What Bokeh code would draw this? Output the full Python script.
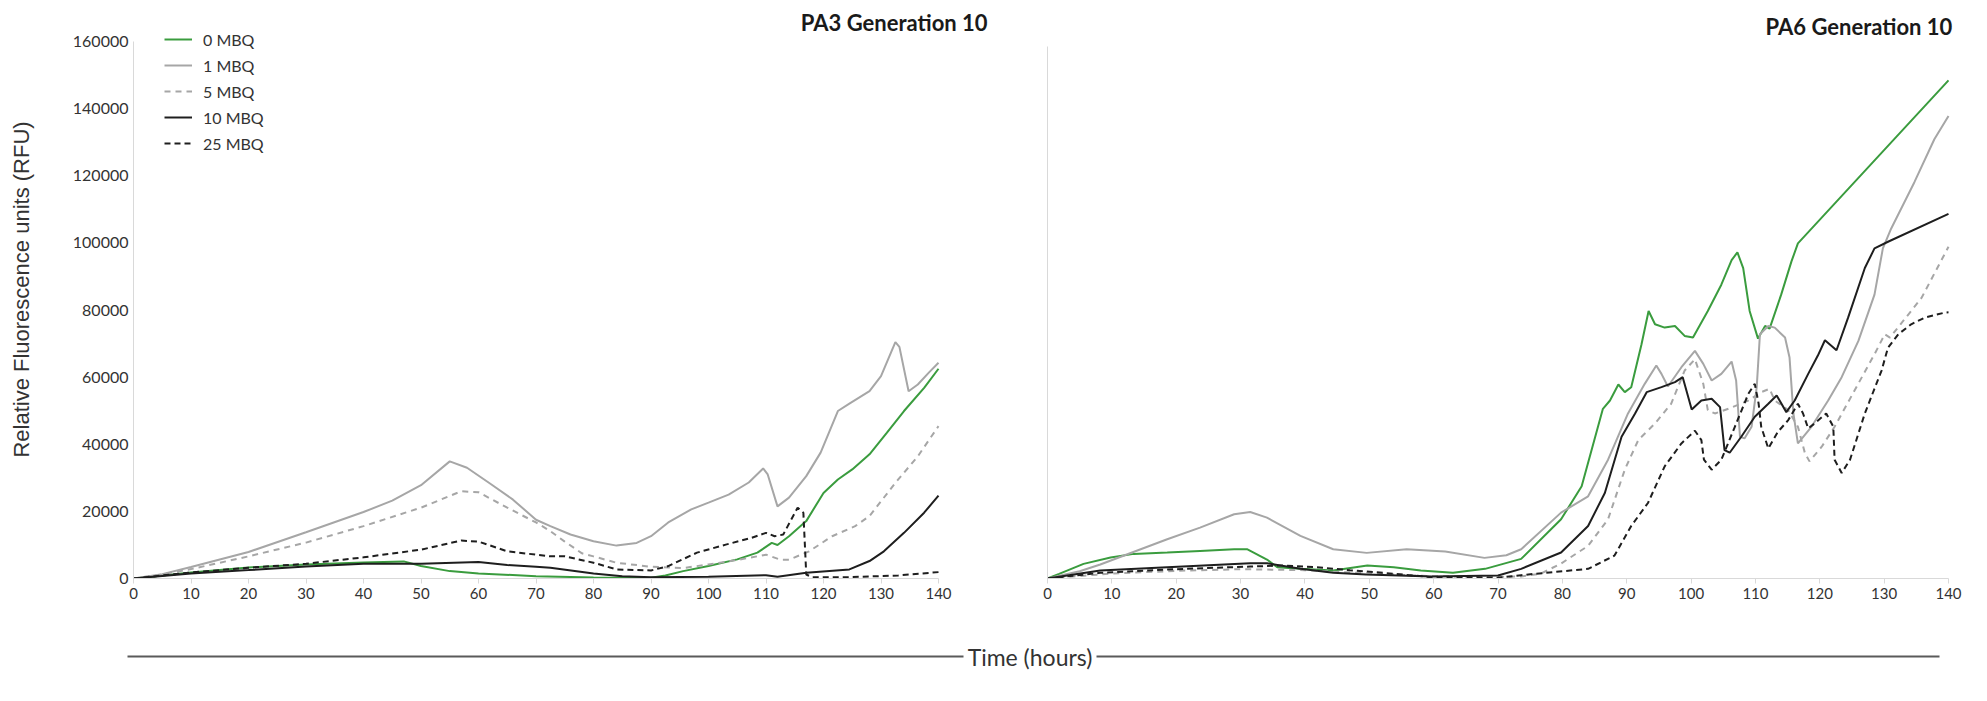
from bokeh.plotting import figure
from bokeh.layouts import row, column
from bokeh.models import Range1d, FixedTicker, BasicTickFormatter, Legend, LegendItem, Label
from bokeh.embed import file_html
from bokeh.resources import INLINE

# ---------------- data ----------------
series_labels = ["0 MBQ", "1 MBQ", "5 MBQ", "10 MBQ", "25 MBQ"]
x_ticks = [0, 10, 20, 30, 40, 50, 60, 70, 80, 90, 100, 110, 120, 130, 140]
y_ticks = [0, 20000, 40000, 60000, 80000, 100000, 120000, 140000, 160000]

# PA3 Generation 10 (left)
pa3_t_0 = [0, 5, 10, 20, 30, 40, 47, 50, 55, 60, 70, 80, 90, 92.5, 95.6, 100, 105, 108.5, 111, 112, 114, 117, 120, 122.5, 125, 128, 131, 134, 137.5, 140]
pa3_v_0 = [0, 900, 1800, 3300, 4200, 4800, 5100, 3700, 2200, 1500, 700, 300, 200, 900, 2200, 3700, 5700, 7700, 10600, 10000, 12600, 17100, 25500, 29500, 32500, 37000, 43400, 49900, 56800, 62500]

pa3_t_1 = [0, 5, 10, 20, 30, 40, 45, 50, 55, 58, 62, 66, 70, 72.5, 76, 80, 84, 87.5, 90, 93, 97, 100, 103.5, 107, 109.5, 110.3, 112, 114, 117, 119.5, 122.5, 124.5, 128, 130, 132.5, 133.2, 134.8, 136.4, 138.4, 140]
pa3_v_1 = [0, 1300, 3400, 7900, 13800, 19800, 23200, 27800, 34900, 33000, 28300, 23500, 17500, 15600, 13100, 11100, 9800, 10600, 12600, 16700, 20600, 22600, 25000, 28600, 32800, 31000, 21500, 24100, 30500, 37500, 49900, 52100, 55800, 60300, 70400, 69000, 55800, 57800, 61500, 64300]

pa3_t_5 = [0, 5, 10, 20, 30, 40, 50, 57, 60, 65, 70, 72.5, 75, 78, 80, 84, 90, 95.6, 100, 105, 110, 112.5, 114, 117.5, 121.5, 125.5, 128, 132.5, 136.4, 140]
pa3_v_5 = [0, 1200, 2800, 6600, 10700, 15600, 21100, 26000, 25700, 21100, 16700, 14100, 11000, 7500, 6600, 4700, 3500, 3100, 4200, 5500, 7100, 5600, 5600, 8100, 12600, 15600, 18600, 28500, 36400, 45400]

pa3_t_10 = [0, 10, 20, 30, 40, 50, 60, 65, 70, 72.5, 80, 85, 90, 100, 110, 112, 117, 124.5, 128, 130.5, 134, 137.5, 140]
pa3_v_10 = [0, 1500, 2500, 3600, 4400, 4400, 4900, 4000, 3500, 3200, 1500, 700, 400, 500, 1000, 500, 1700, 2700, 5200, 8100, 13600, 19600, 24700]

pa3_t_25 = [0, 10, 20, 30, 40, 50, 57, 60, 65, 70, 72.5, 75, 80, 84, 90, 93, 98, 103, 107.5, 110, 111.5, 113, 115.5, 116.5, 117, 118, 124.5, 133, 140]
pa3_v_25 = [0, 1800, 3200, 4400, 6300, 8600, 11300, 11000, 8100, 7100, 6600, 6600, 4700, 2700, 2400, 3700, 7700, 10100, 12100, 13600, 12600, 13100, 21100, 19600, 1200, 400, 400, 900, 1900]

# PA6 Generation 10 (right)
pa6_t_0 = [0, 1.8, 5.6, 9.8, 13.4, 18.6, 23.7, 29, 31, 34.1, 35.7, 39.3, 44.4, 49.7, 53.8, 58, 63, 68, 73.6, 79.8, 83, 86.3, 87.4, 88.7, 89.7, 90.7, 92.3, 93.4, 94.4, 95.9, 97.5, 99, 100.3, 102.6, 104.7, 106.3, 107.2, 108.1, 109.1, 110.4, 111.5, 112.2, 114, 115.6, 116.6, 140]
pa6_v_0 = [0, 1400, 4400, 6300, 7400, 7800, 8300, 8800, 8800, 5700, 3400, 2900, 2400, 3900, 3400, 2400, 1700, 2900, 5900, 17800, 27700, 51000, 53500, 58300, 56000, 57500, 70400, 80400, 76400, 75400, 75900, 72900, 72400, 80400, 88300, 95700, 98000, 93300, 80400, 72100, 75900, 75100, 85300, 95300, 100700, 149700]

pa6_t_1 = [0, 5, 8.2, 11.9, 18.6, 23.7, 29, 31.5, 34.1, 39.3, 44.4, 49.6, 55.8, 61.8, 67.9, 71.3, 73.6, 79.8, 84, 87.1, 90.2, 92.8, 94.6, 95.4, 96.4, 98.5, 100.6, 101.9, 103.2, 104.7, 106.3, 107, 107.6, 108.3, 109.4, 110.2, 110.7, 112, 113, 114.6, 115.3, 115.9, 116.6, 118.7, 121.3, 123.4, 126, 128.5, 129.8, 131.1, 134.7, 137.8, 140]
pa6_v_1 = [0, 2200, 4200, 6900, 11800, 15300, 19300, 20000, 18300, 12800, 8800, 7700, 8800, 8100, 6200, 7000, 8800, 19800, 24700, 35700, 49600, 58500, 64000, 61500, 57700, 63500, 68400, 64500, 59500, 61500, 65200, 59500, 42600, 42100, 45600, 57500, 73400, 75900, 75400, 72400, 66400, 49600, 40600, 45600, 53500, 60500, 71400, 85300, 99200, 105200, 119100, 132000, 139000]

pa6_t_5 = [0, 10, 20, 30, 40, 50, 60, 70, 73.6, 76.7, 79.8, 84, 87.1, 89.7, 91.8, 94.4, 96.9, 99, 100.6, 101.9, 102.6, 103.7, 105.8, 108.9, 110.9, 112.2, 113, 115.1, 116.6, 117.7, 118.4, 120.3, 122.3, 125.4, 128.5, 130.1, 130.9, 135.8, 140]
pa6_v_5 = [0, 1500, 2300, 2800, 2500, 1500, 700, 500, 600, 1500, 4500, 9800, 17800, 32700, 41600, 46600, 52500, 62500, 65900, 58500, 50600, 49600, 51000, 53500, 56000, 57000, 53500, 50600, 45600, 37600, 35200, 39600, 45600, 56500, 67400, 73400, 72400, 84300, 99700]

pa6_t_10 = [0, 8.2, 18.6, 31.5, 34.1, 39.3, 44.4, 49.5, 59.7, 70, 73.6, 79.8, 84, 86.6, 89.2, 91.3, 93.1, 95.4, 97.5, 98.7, 100.1, 101.6, 103.2, 104.5, 105.2, 106, 107.8, 109.9, 112, 113.3, 114.8, 116.1, 118.2, 119.7, 120.8, 122.6, 124.4, 127, 128.5, 130.6, 140]
pa6_v_10 = [0, 2400, 3400, 4600, 4600, 2900, 1700, 1200, 600, 900, 2900, 7800, 15800, 25700, 42600, 49600, 56000, 57500, 59000, 60500, 50800, 53500, 54000, 51500, 38600, 37800, 42600, 48600, 52500, 55000, 50000, 53500, 61500, 67000, 71600, 68600, 78400, 93300, 99200, 101200, 109600]

pa6_t_25 = [0, 8.2, 18.6, 31.5, 36.7, 41.8, 47, 52.2, 59.7, 70, 73.6, 78, 84, 88.1, 90.7, 93.3, 95.9, 98.5, 100.6, 101.6, 102, 103.2, 104.7, 106.8, 108.9, 109.9, 110.5, 110.9, 112, 113.5, 115.1, 116.6, 117.4, 118.2, 119.2, 121, 122.1, 122.3, 123.4, 124.7, 127, 129.6, 130.6, 132.2, 134.2, 136.3, 139.4, 140]
pa6_v_25 = [0, 1700, 2700, 3600, 3900, 3400, 2500, 1700, 400, 200, 1000, 1800, 2900, 6900, 15800, 22700, 33700, 40600, 44400, 41600, 35700, 32700, 35700, 45600, 55500, 58500, 52500, 45600, 39100, 44100, 47600, 52500, 49600, 45100, 46600, 49600, 45600, 35700, 31700, 35700, 49600, 62500, 69400, 73400, 76400, 78400, 79900, 80000]

# ---------------- styling ----------------
FONT = "Lato"
GREEN = "#3a9c3e"
LGRAY = "#a6a6a6"
BLACK = "#1e1e1e"
AXIS = "#d9d9d9"
TEXT = "#333333"
styles = [
    dict(line_color=GREEN, line_width=2),
    dict(line_color=LGRAY, line_width=2),
    dict(line_color=LGRAY, line_width=2, line_dash="6 5"),
    dict(line_color=BLACK, line_width=2),
    dict(line_color=BLACK, line_width=2, line_dash="6 4"),
]


def base_fig(width, bl, br, bb, x_end, y_end):
    p = figure(width=width, height=620, x_range=Range1d(0, x_end), y_range=Range1d(0, y_end),
               output_backend="svg", toolbar_location=None,
               min_border_left=bl, min_border_right=br, min_border_top=0, min_border_bottom=bb)
    p.outline_line_color = None
    p.grid.visible = False
    p.background_fill_color = "white"
    p.border_fill_color = "white"
    xa = p.xaxis[0]
    xa.ticker = FixedTicker(ticks=x_ticks)
    xa.bounds = (0, 140)
    xa.axis_line_color = AXIS
    xa.major_tick_line_color = AXIS
    xa.minor_tick_line_color = None
    xa.major_tick_out = 5
    xa.major_tick_in = 0
    xa.major_label_standoff = 4
    xa.major_label_text_font = FONT
    xa.major_label_text_font_size = "15px"
    xa.major_label_text_color = TEXT
    ya = p.yaxis[0]
    ya.bounds = (0, 160000)
    ya.axis_line_color = AXIS
    ya.major_tick_line_color = None
    ya.minor_tick_line_color = None
    ya.major_tick_out = 0
    ya.major_tick_in = 0
    return p


# Left panel: frame 133..1000 px wide (0..140 h spans 805 px), 0..578 px tall (0..160000 spans 537 px)
p1 = base_fig(1000, 133, 0, 42, 140 * 867 / 805, 160000 * 578 / 537)
ya = p1.yaxis[0]
ya.ticker = FixedTicker(ticks=y_ticks)
ya.formatter = BasicTickFormatter(use_scientific=False)
ya.major_label_standoff = 5
ya.major_label_text_font = FONT
ya.major_label_text_font_size = "16px"
ya.major_label_text_color = TEXT
ya.axis_label = "Relative Fluorescence units (RFU)"
ya.axis_label_text_font = "Liberation Sans"
ya.axis_label_text_font_size = "22px"
ya.axis_label_text_font_style = "normal"
ya.axis_label_text_color = TEXT
ya.axis_label_standoff = 36

left_data = [(pa3_t_0, pa3_v_0), (pa3_t_1, pa3_v_1), (pa3_t_5, pa3_v_5), (pa3_t_10, pa3_v_10), (pa3_t_25, pa3_v_25)]
renderers = []
for (t, v), st in zip(left_data, styles):
    renderers.append(p1.line(t, v, **st))

legend = Legend(items=[LegendItem(label=lab, renderers=[r]) for lab, r in zip(series_labels, renderers)],
                location=(31, 422), orientation="vertical", glyph_width=28, glyph_height=20,
                label_height=26, spacing=0, padding=0, margin=0, label_standoff=11,
                border_line_color=None, background_fill_alpha=0,
                label_text_font=FONT, label_text_font_size="16px", label_text_color=TEXT)
p1.add_layout(legend)

p1.add_layout(Label(x=132.3, y=165600, text="PA3 Generation 10", text_align="center", text_baseline="middle",
                    text_font=FONT, text_font_style="bold", text_font_size="22px", text_color="#1a1a1a"))

# Right panel: frame 1047..1987 px, 0..583 px tall
p2 = base_fig(987, 47, 0, 37, 140 * 940 / 901, 160000 * 583 / 537)
p2.yaxis[0].ticker = FixedTicker(ticks=[])
right_data = [(pa6_t_0, pa6_v_0), (pa6_t_1, pa6_v_1), (pa6_t_5, pa6_v_5), (pa6_t_10, pa6_v_10), (pa6_t_25, pa6_v_25)]
for (t, v), st in zip(right_data, styles):
    p2.line(t, v, **st)
p2.add_layout(Label(x=140.6, y=166000, text="PA6 Generation 10", text_align="right", text_baseline="middle",
                    text_font=FONT, text_font_style="bold", text_font_size="22px", text_color="#1a1a1a"))

# Bottom shared axis title
p3 = figure(width=1987, height=81, x_range=Range1d(0, 1987), y_range=Range1d(0, 81),
            output_backend="svg", toolbar_location=None, x_axis_location=None, y_axis_location=None,
            min_border=0)
p3.outline_line_color = None
p3.grid.visible = False
p3.segment(x0=[127, 1096], y0=[45, 45], x1=[963, 1939], y1=[45, 45], line_color="#5a5a5a", line_width=2)
p3.add_layout(Label(x=1029.5, y=45, text="Time (hours)", text_align="center", text_baseline="middle",
                    text_font=FONT, text_font_size="23px", text_color=TEXT))

layout = column(row(p1, p2, spacing=0), p3, spacing=0)
open("out.html", "w").write(file_html(layout, INLINE))
